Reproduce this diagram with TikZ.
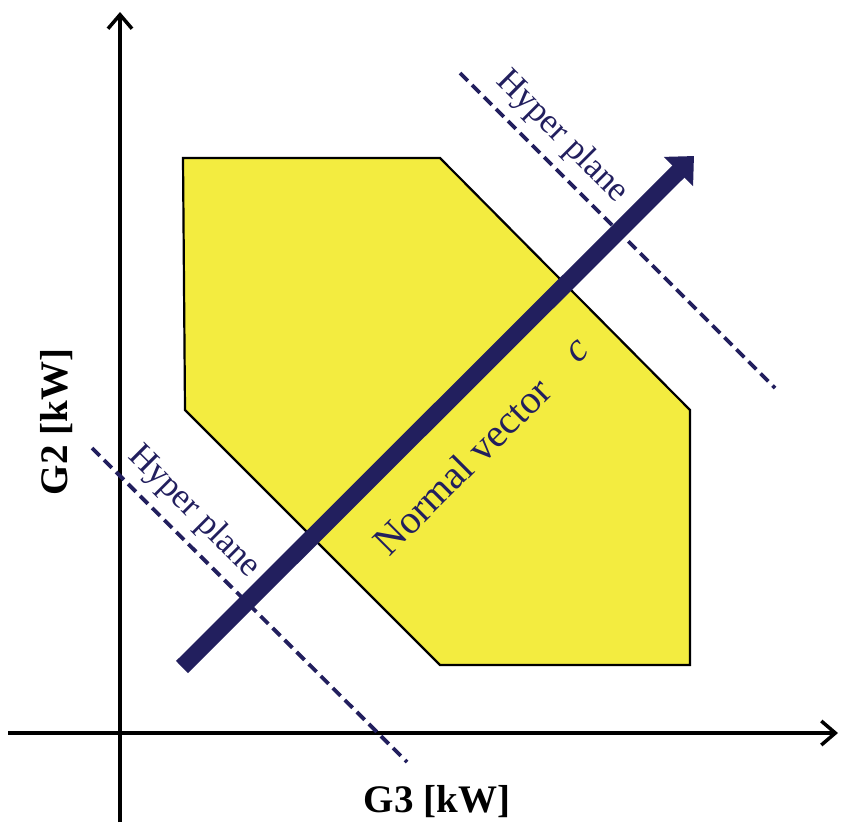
\documentclass[tikz,border=0pt]{standalone}
\usepackage{fontspec}
\setmainfont{Liberation Serif}
\usetikzlibrary{arrows.meta}
\definecolor{navyvec}{RGB}{34,31,94}
\definecolor{feasyellow}{RGB}{243,236,64}

\begin{document}
\begin{tikzpicture}[x=1pt,y=-1pt,>=Stealth,
  axis/.style={line width=3.5pt,-{Straight Barb[length=14pt,width=24pt,line width=3.5pt]}},
  region/.style={draw=black,line width=2.2pt,fill=feasyellow},
  hyperline/.style={draw=navyvec,line width=3.8pt,dash pattern=on 11pt off 6pt},
  hyperlabel/.style={text=navyvec,font=\fontsize{35}{36}\selectfont,rotate=-45},
  axislabel/.style={font=\fontsize{39}{40}\selectfont\bfseries}]
  \useasboundingbox (0,0) rectangle (842,827);
  % axes
  \coordinate (yfoot) at (120,822);
  \coordinate (ytop) at (120,12);
  \coordinate (xfoot) at (8,733);
  \coordinate (xtip) at (838,733);
  \draw[axis] (yfoot) -- (ytop);
  \draw[axis] (xfoot) -- (xtip);
  % feasible region
  \draw[region] (183,158) -- (440,158) -- (690,410) -- (690,665)
    -- (440,665) -- (185,410) -- cycle;
  % hyper planes
  \coordinate (hpA1) at (460,73);
  \coordinate (hpA2) at (775,388);
  \coordinate (hpB1) at (92,448);
  \coordinate (hpB2) at (407,762);
  \draw[hyperline] (hpA1) -- (hpA2);
  \draw[hyperline] (hpB1) -- (hpB2);
  % normal vector
  \coordinate (nvtail) at (182,667);
  \coordinate (nvhead) at (694,156);
  \draw[navyvec,line width=17pt,-{Triangle[length=22pt,width=40pt]}] (nvtail) -- (nvhead);
  % labels
  \node[hyperlabel] (hplabA) at (562,137) {Hyper plane};
  \node[hyperlabel] (hplabB) at (194,512) {Hyper plane};
  \node[text=navyvec,font=\fontsize{40}{42}\selectfont,rotate=45] (nvlab) at (462,466) {Normal vector};
  \node[text=navyvec,font=\fontsize{40}{42}\selectfont\itshape,rotate=45] (clab) at (578,352) {c};
  \node[axislabel,rotate=90] (ylab) at (57,422) {G2 [kW]};
  \node[axislabel] (xlab) at (437,802) {G3 [kW]};
\end{tikzpicture}
\end{document}
